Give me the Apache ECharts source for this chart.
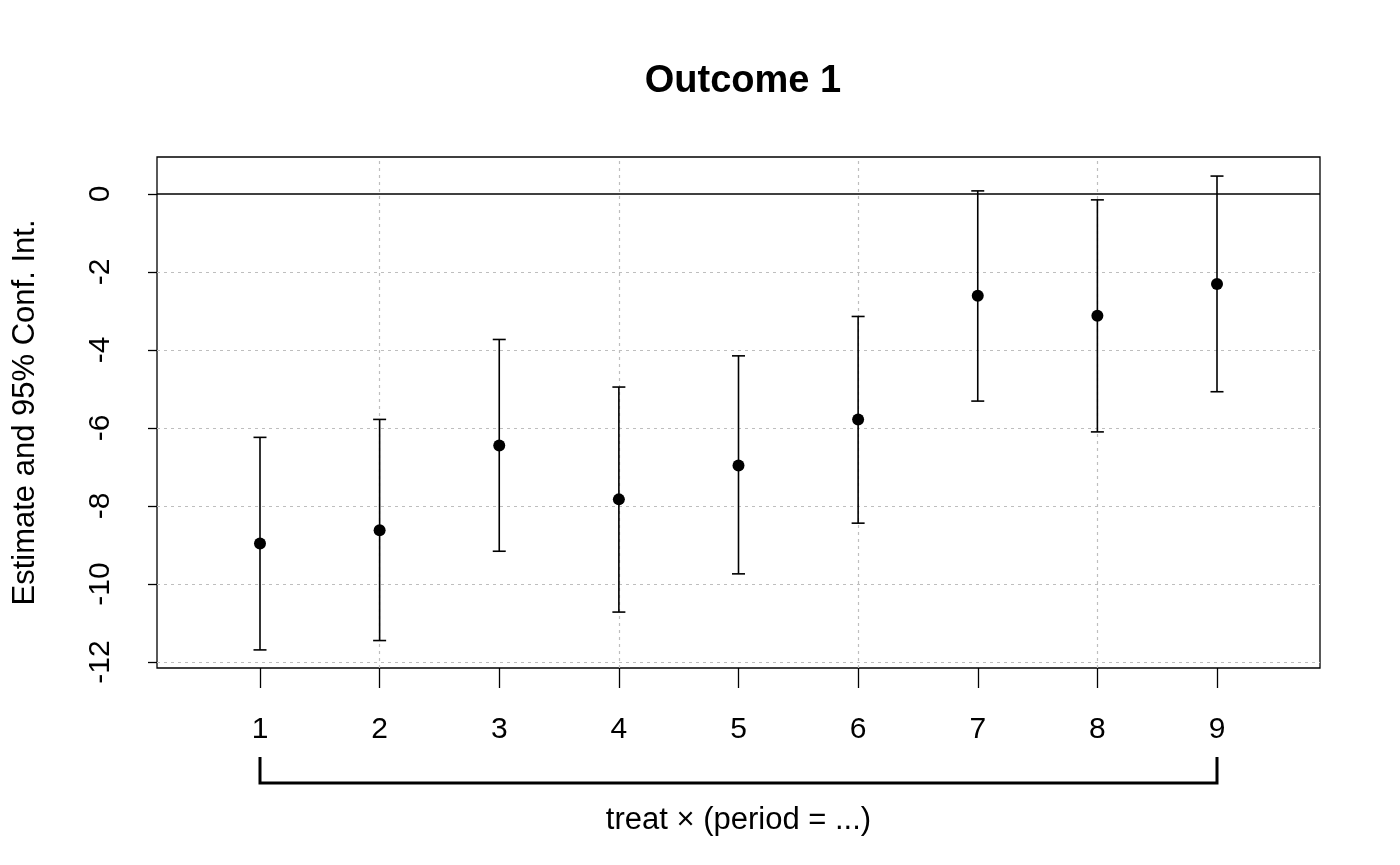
<!DOCTYPE html>
<html>
<head>
<meta charset="utf-8">
<script src="https://cdn.jsdelivr.net/npm/echarts@6/dist/echarts.min.js"></script>
<style>html,body{margin:0;padding:0;background:#fff;}#c{width:1400px;height:865px;}</style>
</head>
<body>
<div id="c"></div>
<script>
var periods   = [1, 2, 3, 4, 5, 6, 7, 8, 9];
var estimates = [-8.96, -8.62, -6.45, -7.83, -6.96, -5.78, -2.61, -3.12, -2.31];
var ciLow     = [-11.69, -11.45, -9.16, -10.72, -9.74, -8.44, -5.31, -6.10, -5.07];
var ciHigh    = [-6.24, -5.78, -3.73, -4.95, -4.15, -3.14, 0.08, -0.15, 0.46];
var yTicks    = [0, -2, -4, -6, -8, -10, -12];
var xTicks    = [1, 2, 3, 4, 5, 6, 7, 8, 9];
var xGrid     = [2, 4, 6, 8];
var yGrid     = [-2, -4, -6, -8, -10, -12];
var titleText = 'Outcome 1';
var yName     = 'Estimate and 95% Conf. Int.';
var xName     = 'treat \u00d7 (period = ...)';

var X_MIN = 0.139, X_MAX = 9.861, Y_MIN = -12.154, Y_MAX = 0.949;
var FONT = '"Liberation Sans", Arial, Helvetica, sans-serif';

var chart = echarts.init(document.getElementById('c'), null, {renderer: 'canvas'});

var gridLines = [];
xGrid.forEach(function (v) { gridLines.push({xAxis: v}); });
yGrid.forEach(function (v) { gridLines.push({yAxis: v}); });

var option = {
  animation: false,
  backgroundColor: '#ffffff',
  title: {
    text: titleText,
    left: 738, top: 58, textAlign: 'center',
    textStyle: {fontFamily: FONT, fontWeight: 'bold', fontSize: 38, color: '#000'}
  },
  grid: {left: 157, right: 80, top: 157, bottom: 197, show: true, borderColor: '#000', borderWidth: 1.3, backgroundColor: 'transparent'},
  xAxis: {
    type: 'value', min: X_MIN, max: X_MAX,
    name: xName, nameLocation: 'middle', nameGap: 137,
    nameTextStyle: {fontFamily: FONT, fontSize: 31, color: '#000'},
    axisLine: {show: false, onZero: false},
    axisTick: {show: true, length: 20, customValues: xTicks, lineStyle: {color: '#000', width: 1.3}},
    axisLabel: {customValues: xTicks, fontFamily: FONT, fontSize: 30, color: '#000', margin: 47},
    splitLine: {show: false}
  },
  yAxis: {
    type: 'value', min: Y_MIN, max: Y_MAX,
    name: yName, nameLocation: 'middle', nameGap: 116,
    nameTextStyle: {fontFamily: FONT, fontSize: 31, color: '#000'},
    axisLine: {show: false, onZero: false},
    axisTick: {show: true, length: 9, customValues: yTicks, lineStyle: {color: '#000', width: 1.3}},
    axisLabel: {customValues: yTicks, rotate: 90, fontFamily: FONT, fontSize: 30, color: '#000', margin: 41},
    splitLine: {show: false}
  },
  series: [
    {
      type: 'line', data: [], silent: true, z: 1,
      markLine: {
        silent: true, symbol: 'none', label: {show: false}, z: 1,
        lineStyle: {color: '#bebebe', type: [3, 4], width: 1.2},
        data: gridLines
      }
    },
    {
      type: 'line', data: [], silent: true, z: 2,
      markLine: {
        silent: true, symbol: 'none', label: {show: false}, z: 2,
        lineStyle: {color: '#000', type: 'solid', width: 1.5},
        data: [{yAxis: 0}]
      }
    },
    {
      type: 'custom', silent: true, z: 10,
      data: periods.map(function (p, i) { return [p, ciLow[i], ciHigh[i]]; }),
      renderItem: function (params, api) {
        var lo = api.coord([api.value(0), api.value(1)]);
        var hi = api.coord([api.value(0), api.value(2)]);
        var hw = 6.5;
        var st = {stroke: '#000', lineWidth: 1.6};
        return {type: 'group', children: [
          {type: 'line', shape: {x1: lo[0], y1: lo[1], x2: hi[0], y2: hi[1]}, style: st},
          {type: 'line', shape: {x1: lo[0] - hw, y1: lo[1], x2: lo[0] + hw, y2: lo[1]}, style: st},
          {type: 'line', shape: {x1: hi[0] - hw, y1: hi[1], x2: hi[0] + hw, y2: hi[1]}, style: st}
        ]};
      }
    },
    {
      type: 'scatter', silent: true, symbol: 'circle', symbolSize: 12, z: 11,
      itemStyle: {color: '#000', opacity: 1},
      data: periods.map(function (p, i) { return [p, estimates[i]]; })
    },
    {
      type: 'custom', silent: true, clip: false, z: 10,
      data: [[xTicks[0], xTicks[xTicks.length - 1]]],
      renderItem: function (params, api) {
        var a = api.coord([api.value(0), Y_MIN]);
        var b = api.coord([api.value(1), Y_MIN]);
        var yb = a[1] + 115, yt = a[1] + 89;
        var st = {stroke: '#000', lineWidth: 3, fill: null};
        return {type: 'polyline', shape: {points: [[a[0], yt], [a[0], yb], [b[0], yb], [b[0], yt]]}, style: st};
      }
    }
  ]
};
chart.setOption(option);
</script>
</body>
</html>
